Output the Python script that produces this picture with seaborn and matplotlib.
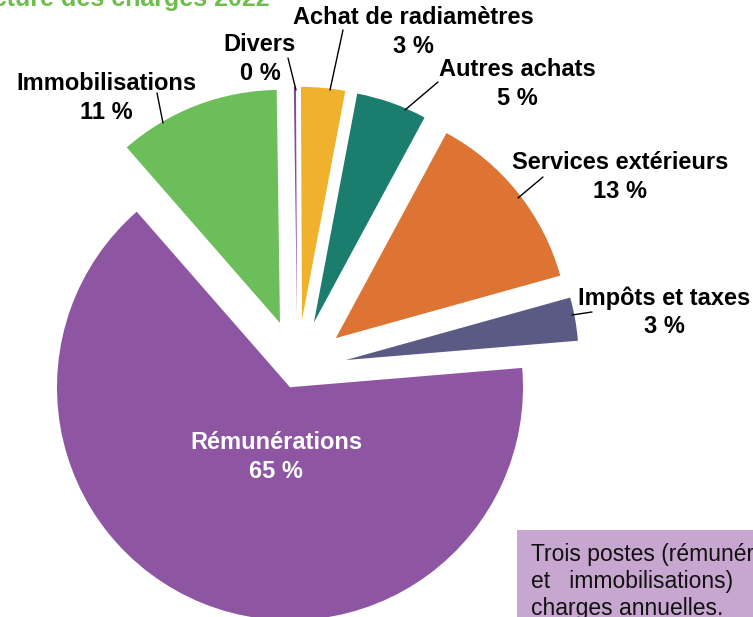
import matplotlib
matplotlib.use("Agg")
import matplotlib.pyplot as plt
from matplotlib.patches import Rectangle
import seaborn as sns

# ---- data ----
categories = ["Divers", "Achat de radiamètres", "Autres achats", "Services extérieurs",
              "Impôts et taxes", "Rémunérations", "Immobilisations"]
values = [0.15, 3.05, 4.9, 12.8, 3.0, 64.9, 11.2]
pct_labels = ["0 %", "3 %", "5 %", "13 %", "3 %", "65 %", "11 %"]
title_text = "Structure des charges 2022"
note_lines = ["Trois postes (rémunérations, services extérieurs",
              "et   immobilisations)   représentent   l'essentiel   des",
              "charges annuelles."]

# ---- style ----
sns.set_style("white")
plt.rcParams["font.family"] = ["Liberation Sans", "DejaVu Sans"]
colors = sns.color_palette(["#7E4F9C", "#F0B22C", "#1B7D6E", "#DD7433",
                            "#5A5A85", "#8E56A2", "#6BBE5A"])

W, H = 753, 617
fig = plt.figure(figsize=(W / 100, H / 100), dpi=100)
ax = fig.add_axes([0, 0, 1, 1])

R = 233
# explode offsets in data (pixel) units
explode = [49, 49, 49, 49, 49, 20, 49]
wedges, _ = ax.pie(values, colors=colors, explode=explode, radius=R,
                   center=(297.5, H - 368.7), startangle=90.8, counterclock=False,
                   wedgeprops=dict(linewidth=0), frame=True)
ax.set_xlim(0, W)
ax.set_ylim(0, H)
ax.set_aspect("equal")
ax.axis("off")

# label positions (image px: x, y of block centre)
label_pos = [(260, 59), (413, 32), (517, 84), (620, 177), (664, 312), (276, 457), (106, 98)]
for cat, pct, (x, y) in zip(categories, pct_labels, label_pos):
    col = "white" if cat == "Rémunérations" else "black"
    ax.text(x, H - y, f"{cat}\n{pct}", ha="center", va="center", fontsize=17,
            fontweight="bold", color=col, linespacing=1.3)

# leader lines (image px)
leaders = [((288, 58), (296, 90)), ((343, 30), (330, 90)), ((438, 82), (405, 110)),
           ((543, 177), (518, 198)), ((592, 312), (572, 315)), ((157, 93), (163, 123))]
for (x0, y0), (x1, y1) in leaders:
    ax.plot([x0, x1], [H - y0, H - y1], color="black", lw=1)

# cropped title at top
ax.text(270, H - 6, title_text, ha="right", va="baseline", fontsize=18,
        fontweight="bold", color="#6DBE4B", clip_on=False)
ax.text(733, H + 11, "Tr", ha="left", va="baseline", fontsize=18,
        fontweight="bold", color="black", clip_on=False)

# note box at bottom right
ax.add_patch(Rectangle((517, -20), 300, H - 530 + 20, facecolor="#C7A6CF",
                       edgecolor="none", zorder=3))
for k, line in enumerate(note_lines):
    ax.text(531, H - 561 - 27 * k, line, ha="left", va="baseline", fontsize=16.5,
            color="#111111", zorder=4)

fig.savefig("out.png", dpi=100)
